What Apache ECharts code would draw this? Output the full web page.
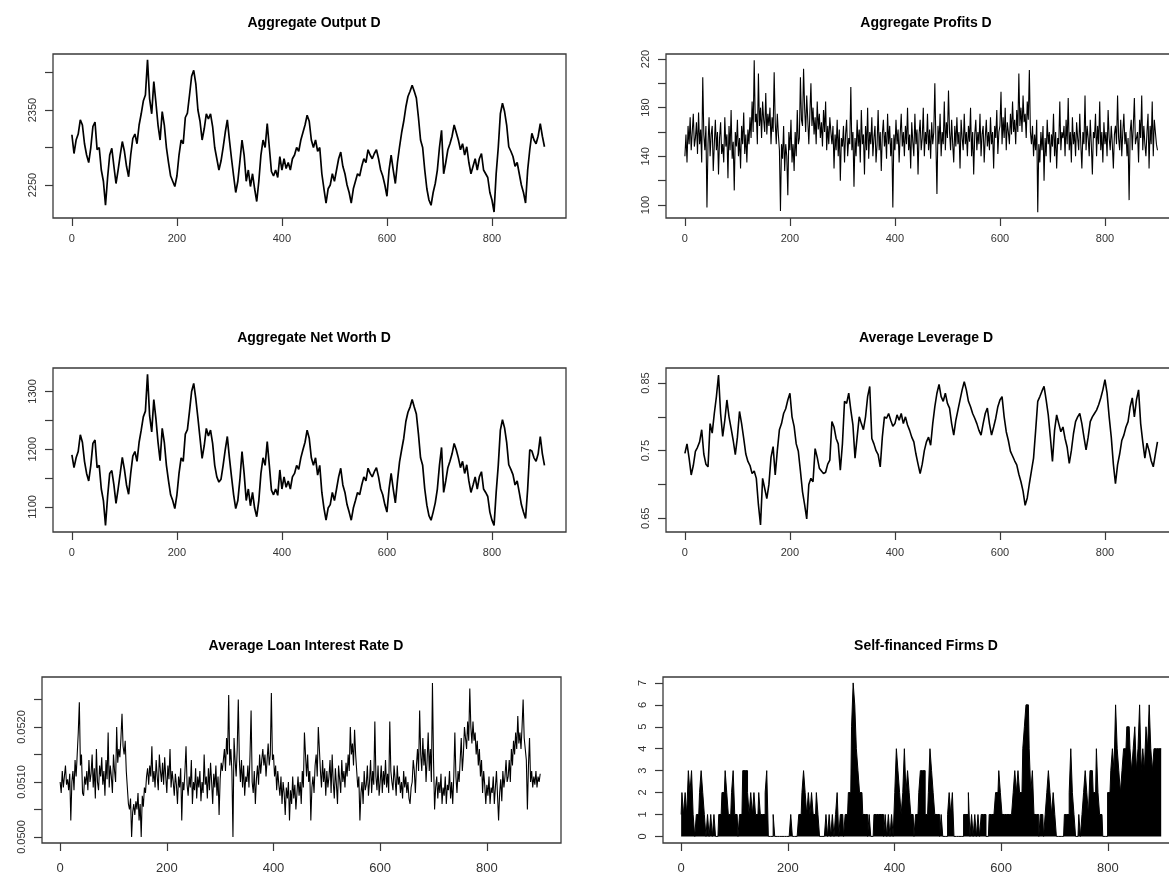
<!DOCTYPE html>
<html><head><meta charset="utf-8">
<script src="https://cdn.jsdelivr.net/npm/echarts@6/dist/echarts.min.js"></script>
<style>html,body{margin:0;padding:0;background:#fff;overflow:hidden}#c{width:1200px;height:875px}</style>
</head><body><div id="c"></div>
<script>
// ---- data (time index t = position * step) ----
const xTickValues = [0, 200, 400, 600, 800];

// Aggregate Output D, every 4th period
const outputStep = 4;
const outputVals = [
2317,2292,2310,2318,2337,2330,2305,2290,2280,2300,
2328,2334,2297,2300,2270,2255,2223,2260,2290,2299,
2275,2252,2270,2290,2308,2295,2275,2261,2290,2312,
2318,2305,2330,2345,2362,2370,2417,2365,2345,2388,
2360,2330,2310,2348,2330,2300,2280,2262,2255,2248,
2262,2290,2310,2305,2340,2346,2370,2395,2403,2385,
2350,2335,2310,2325,2345,2338,2345,2328,2300,2285,
2270,2282,2300,2320,2337,2310,2285,2262,2240,2255,
2282,2310,2290,2255,2270,2248,2265,2245,2228,2255,
2290,2310,2300,2332,2300,2268,2262,2270,2260,2288,
2270,2285,2272,2280,2270,2285,2290,2300,2295,2310,
2320,2330,2343,2335,2310,2300,2310,2295,2300,2265,
2245,2226,2245,2250,2265,2255,2270,2285,2294,2275,
2265,2250,2240,2226,2245,2255,2265,2262,2275,2285,
2280,2297,2290,2285,2292,2297,2285,2270,2262,2250,
2235,2270,2290,2270,2252,2280,2301,2320,2335,2354,
2368,2375,2383,2375,2366,2340,2310,2300,2270,2245,
2230,2223,2240,2252,2270,2300,2323,2265,2280,2297,
2305,2315,2330,2320,2310,2297,2305,2290,2301,2280,
2265,2275,2285,2270,2285,2292,2270,2265,2260,2240,
2230,2214,2265,2300,2345,2359,2348,2330,2301,2295,
2288,2275,2280,2265,2250,2240,2226,2270,2297,2319,
2310,2305,2315,2332,2315,2301];
const outputYTicks = [2250, 2300, 2350, 2400];
const outputYLabels = [2250, 2350];

// Aggregate Profits D, every 2nd period
const profitStep = 2;
const profitVals = [
140,158,135,165,150,172,145,160,175,148,
155,168,142,176,150,162,135,205,158,145,
165,98,150,172,140,158,165,128,150,170,
145,160,125,155,168,142,150,135,172,148,
158,122,165,145,178,138,152,112,160,148,
170,140,155,130,165,150,176,142,158,135,
162,150,172,155,185,160,219,168,175,150,
208,165,180,155,185,170,160,192,158,175,
165,180,150,172,160,209,168,150,175,158,
145,95,150,138,165,128,150,140,108,160,
145,170,135,150,128,160,140,178,150,155,
205,170,165,212,180,160,190,170,150,175,
200,165,180,158,172,150,185,162,175,155,
168,148,178,160,185,145,165,150,172,160,
150,165,130,158,145,170,140,162,120,155,
148,165,135,158,170,140,155,150,197,145,
160,115,155,140,170,148,162,135,178,150,
158,125,165,145,180,138,160,150,172,140,
155,165,135,150,178,145,160,128,158,170,
148,160,138,175,150,165,140,155,98,158,
145,170,150,162,135,158,175,148,160,140,
165,150,180,145,158,130,168,152,140,175,
150,162,125,158,170,145,155,180,140,160,
150,175,145,162,138,168,150,160,200,152,
109,165,150,175,140,160,150,185,145,168,
155,194,160,145,170,150,135,165,148,172,
150,160,130,170,155,145,175,150,160,140,
165,152,180,140,160,125,158,170,145,160,
150,175,140,158,165,135,155,170,148,160,
145,172,150,160,130,165,155,178,142,160,
165,193,150,172,155,180,145,168,160,150,
175,158,185,160,170,150,178,160,208,165,
180,160,190,168,175,155,185,170,211,160,
150,165,140,158,145,170,94,150,135,160,
145,165,120,155,140,170,150,160,135,158,
148,175,140,160,130,155,150,185,145,160,
155,165,140,170,150,188,145,160,135,172,
150,160,140,168,155,145,175,150,130,160,
150,190,145,165,155,140,170,150,125,160,
155,175,140,165,150,185,145,160,135,168,
150,160,140,178,155,145,165,150,130,158,
165,150,190,155,145,170,140,160,175,150,
160,140,155,104,160,170,145,165,188,150,
150,160,135,170,155,190,145,165,150,140,
160,175,130,165,150,185,140,170,160,150,
145];
const profitYTicks = [100, 120, 140, 160, 180, 200, 220];
const profitYLabels = [100, 140, 180, 220];

// Aggregate Net Worth D, every 4th period
const netWorthStep = 4;
const netWorthVals = [
1190,1168,1185,1196,1225,1212,1179,1158,1145,1172,
1210,1216,1168,1172,1131,1111,1068,1118,1158,1163,
1138,1106,1131,1158,1186,1165,1138,1122,1158,1188,
1196,1179,1212,1233,1256,1266,1330,1258,1230,1286,
1253,1212,1180,1236,1212,1172,1145,1121,1111,1097,
1121,1158,1185,1179,1226,1234,1266,1300,1314,1287,
1254,1219,1184,1206,1236,1223,1233,1210,1172,1152,
1143,1148,1172,1199,1222,1185,1152,1121,1097,1111,
1148,1196,1158,1111,1131,1102,1125,1098,1083,1111,
1158,1185,1172,1213,1172,1129,1121,1131,1120,1164,
1131,1152,1134,1145,1131,1152,1158,1172,1165,1185,
1199,1212,1233,1219,1185,1172,1185,1155,1172,1125,
1098,1077,1098,1104,1125,1111,1131,1152,1167,1138,
1125,1104,1091,1077,1098,1111,1125,1121,1138,1152,
1145,1167,1158,1152,1161,1168,1152,1131,1121,1104,
1091,1131,1158,1131,1107,1145,1178,1199,1219,1248,
1264,1273,1286,1273,1261,1226,1185,1172,1131,1103,
1085,1077,1091,1107,1131,1172,1203,1125,1145,1168,
1179,1192,1210,1199,1185,1168,1179,1158,1173,1145,
1125,1138,1152,1131,1152,1161,1131,1125,1118,1091,
1077,1068,1125,1172,1233,1251,1237,1212,1173,1165,
1156,1138,1145,1125,1104,1091,1080,1131,1199,1197,
1185,1179,1192,1222,1192,1172];
const netWorthYTicks = [1100, 1150, 1200, 1250, 1300];
const netWorthYLabels = [1100, 1200, 1300];

// Average Leverage D, every 4th period
const leverageStep = 4;
const leverageVals = [
0.746,0.760,0.739,0.714,0.728,0.749,0.755,0.763,0.781,0.745,
0.730,0.726,0.790,0.776,0.805,0.830,0.862,0.805,0.771,0.795,
0.825,0.800,0.783,0.765,0.744,0.770,0.808,0.790,0.768,0.745,
0.734,0.728,0.716,0.720,0.709,0.670,0.640,0.709,0.694,0.679,
0.700,0.740,0.756,0.714,0.750,0.781,0.790,0.805,0.812,0.825,
0.835,0.800,0.786,0.760,0.749,0.720,0.689,0.670,0.649,0.700,
0.709,0.704,0.753,0.740,0.724,0.720,0.716,0.718,0.730,0.736,
0.793,0.785,0.768,0.760,0.721,0.760,0.823,0.820,0.835,0.810,
0.788,0.739,0.770,0.800,0.790,0.781,0.800,0.830,0.845,0.768,
0.760,0.750,0.744,0.726,0.770,0.800,0.798,0.805,0.795,0.786,
0.790,0.803,0.795,0.805,0.790,0.800,0.788,0.780,0.770,0.763,
0.745,0.730,0.716,0.730,0.750,0.763,0.770,0.758,0.790,0.815,
0.835,0.848,0.830,0.823,0.835,0.820,0.813,0.790,0.773,0.795,
0.810,0.825,0.840,0.852,0.840,0.823,0.815,0.805,0.798,0.790,
0.780,0.773,0.790,0.805,0.813,0.790,0.773,0.785,0.798,0.815,
0.825,0.830,0.800,0.778,0.765,0.749,0.742,0.735,0.729,0.715,
0.704,0.690,0.669,0.680,0.701,0.720,0.739,0.780,0.823,0.830,
0.838,0.845,0.825,0.803,0.770,0.734,0.780,0.803,0.790,0.778,
0.785,0.768,0.755,0.731,0.750,0.775,0.793,0.800,0.805,0.790,
0.770,0.751,0.770,0.793,0.800,0.805,0.810,0.818,0.828,0.840,
0.855,0.835,0.800,0.770,0.730,0.701,0.729,0.745,0.765,0.773,
0.785,0.793,0.815,0.828,0.800,0.825,0.840,0.790,0.763,0.739,
0.761,0.750,0.735,0.726,0.745,0.763];
const leverageYTicks = [0.65, 0.70, 0.75, 0.80, 0.85];
const leverageYLabels = [0.65, 0.75, 0.85];

// Average Loan Interest Rate D, every 2nd period
const loanRateStep = 2;
const loanRateVals = [
0.05100,0.05080,0.05120,0.05090,0.05110,0.05130,0.05095,0.05105,0.05085,0.05115,
0.05030,0.05100,0.05120,0.05085,0.05140,0.05110,0.05150,0.05190,0.05245,0.05130,
0.05150,0.05080,0.05075,0.05110,0.05095,0.05120,0.05085,0.05140,0.05100,0.05115,
0.05150,0.05090,0.05125,0.05070,0.05160,0.05100,0.05085,0.05130,0.05110,0.05145,
0.05095,0.05120,0.05075,0.05140,0.05105,0.05190,0.05090,0.05130,0.05110,0.05080,
0.05150,0.05120,0.05100,0.05200,0.05135,0.05160,0.05145,0.05180,0.05224,0.05165,
0.05150,0.05175,0.05120,0.05090,0.05060,0.05050,0.05070,0.05000,0.05045,0.05060,
0.05040,0.05065,0.05050,0.05080,0.05030,0.05060,0.05000,0.05075,0.05055,0.05090,
0.05080,0.05110,0.05125,0.05095,0.05130,0.05110,0.05165,0.05100,0.05120,0.05090,
0.05140,0.05110,0.05085,0.05150,0.05120,0.05100,0.05135,0.05095,0.05145,0.05110,
0.05080,0.05130,0.05105,0.05160,0.05090,0.05120,0.05100,0.05075,0.05115,0.05095,
0.05060,0.05110,0.05090,0.05125,0.05030,0.05100,0.05085,0.05120,0.05165,0.05095,
0.05075,0.05110,0.05090,0.05140,0.05060,0.05100,0.05085,0.05125,0.05070,0.05110,
0.05090,0.05120,0.05065,0.05100,0.05080,0.05150,0.05095,0.05110,0.05070,0.05125,
0.05085,0.05135,0.05100,0.05060,0.05115,0.05090,0.05130,0.05075,0.05110,0.05040,
0.05105,0.05135,0.05120,0.05140,0.05160,0.05120,0.05180,0.05150,0.05258,0.05130,
0.05160,0.05120,0.05000,0.05180,0.05140,0.05110,0.05160,0.05250,0.05140,0.05100,
0.05140,0.05090,0.05130,0.05075,0.05110,0.05100,0.05130,0.05090,0.05150,0.05230,
0.05100,0.05080,0.05120,0.05060,0.05105,0.05130,0.05095,0.05150,0.05115,0.05140,
0.05160,0.05130,0.05150,0.05110,0.05140,0.05170,0.05130,0.05150,0.05262,0.05140,
0.05150,0.05110,0.05130,0.05085,0.05120,0.05095,0.05075,0.05110,0.05060,0.05100,
0.05080,0.05040,0.05090,0.05070,0.05100,0.05030,0.05085,0.05060,0.05110,0.05070,
0.05095,0.05050,0.05080,0.05110,0.05075,0.05100,0.05060,0.05120,0.05090,0.05190,
0.05190,0.05110,0.05150,0.05100,0.05120,0.05030,0.05090,0.05110,0.05080,0.05130,
0.05150,0.05110,0.05200,0.05160,0.05120,0.05090,0.05140,0.05100,0.05125,0.05075,
0.05120,0.05090,0.05110,0.05140,0.05080,0.05150,0.05100,0.05070,0.05125,0.05095,
0.05060,0.05130,0.05105,0.05080,0.05140,0.05100,0.05120,0.05090,0.05135,0.05110,
0.05150,0.05120,0.05200,0.05150,0.05170,0.05130,0.05195,0.05150,0.05120,0.05090,
0.05110,0.05030,0.05080,0.05100,0.05060,0.05120,0.05085,0.05095,0.05130,0.05075,
0.05100,0.05140,0.05080,0.05120,0.05095,0.05210,0.05110,0.05085,0.05130,0.05075,
0.05100,0.05130,0.05080,0.05120,0.05095,0.05140,0.05090,0.05115,0.05080,0.05210,
0.05120,0.05100,0.05085,0.05130,0.05105,0.05075,0.05130,0.05095,0.05110,0.05080,
0.05100,0.05070,0.05120,0.05090,0.05110,0.05080,0.05100,0.05070,0.05060,0.05090,
0.05100,0.05140,0.05120,0.05080,0.05130,0.05160,0.05120,0.05230,0.05150,0.05120,
0.05180,0.05130,0.05160,0.05100,0.05140,0.05190,0.05120,0.05160,0.05100,0.05280,
0.05140,0.05050,0.05090,0.05110,0.05070,0.05100,0.05080,0.05115,0.05060,0.05090,
0.05075,0.05110,0.05060,0.05095,0.05085,0.05120,0.05070,0.05100,0.05060,0.05110,
0.05190,0.05110,0.05080,0.05120,0.05100,0.05140,0.05180,0.05120,0.05150,0.05200,
0.05180,0.05160,0.05210,0.05175,0.05270,0.05200,0.05170,0.05210,0.05175,0.05190,
0.05150,0.05175,0.05130,0.05160,0.05110,0.05140,0.05080,0.05120,0.05095,0.05060,
0.05095,0.05075,0.05110,0.05060,0.05090,0.05080,0.05110,0.05060,0.05090,0.05120,
0.05075,0.05030,0.05080,0.05105,0.05065,0.05120,0.05090,0.05110,0.05140,0.05100,
0.05110,0.05140,0.05100,0.05160,0.05130,0.05175,0.05150,0.05190,0.05160,0.05220,
0.05170,0.05190,0.05160,0.05200,0.05250,0.05180,0.05160,0.05140,0.05050,0.05130,
0.05180,0.05100,0.05120,0.05090,0.05110,0.05095,0.05120,0.05090,0.05110,0.05100,
0.05115];
const loanRateYTicks = [0.0500, 0.0505, 0.0510, 0.0515, 0.0520, 0.0525];
const loanRateYLabels = [0.0500, 0.0510, 0.0520];

// Self-financed Firms D, every 3rd period
const selfFinStep = 3;
const selfFinVals = [
1,2,1,2,1,3,2,3,1,0,
1,1,2,3,2,1,0,1,0,1,
0,1,0,0,1,1,2,2,3,2,
1,1,2,3,1,1,0,1,1,3,
3,3,2,1,2,1,2,1,1,2,
1,1,1,2,3,0,0,0,1,0,
0,0,0,0,0,0,0,0,0,1,
0,0,0,0,1,1,2,3,2,1,
2,1,2,1,1,2,1,0,0,0,
0,1,0,1,0,1,0,1,2,0,
1,1,0,1,1,2,2,5,7,6,
4,3,2,2,1,1,1,0,1,0,
0,1,1,1,1,1,1,0,1,0,
1,0,1,0,2,4,3,2,1,2,
4,2,3,2,1,1,0,1,1,2,
3,3,3,1,1,2,4,3,2,1,
1,1,0,1,0,0,0,1,2,1,
2,0,0,0,0,0,0,1,1,1,
2,0,1,0,1,0,1,0,1,1,
1,0,0,1,1,1,1,2,2,3,
2,1,1,1,1,1,1,1,2,3,
2,3,2,2,4,5,6,6,4,2,
3,1,1,1,0,1,1,0,1,2,
3,2,1,2,1,0,0,0,0,0,
1,1,1,2,4,2,1,0,0,1,
0,1,2,3,2,1,3,3,2,2,
4,2,1,1,0,0,0,2,2,3,
4,3,6,4,3,2,3,4,4,5,
5,4,3,4,5,3,4,6,3,4,
3,5,4,6,4,3,4,4,4,4,
4];
const selfFinYTicks = [0, 1, 2, 3, 4, 5, 6, 7];
const selfFinYLabels = [0, 1, 2, 3, 4, 5, 6, 7];

// ---- layout ----
const FONT = '"Liberation Sans", Arial, Helvetica, sans-serif';
const INK = '#333';
const panels = [
  {title:'Aggregate Output D', vals:outputVals, step:outputStep, g:[53,54,513,164], xr:[-36,941], yr:[2206,2424.7], yt:outputYTicks, yl:outputYLabels, dec:0, tx:309, ty:11, xf:11, xm:15, lw:1.7},
  {title:'Aggregate Profits D', vals:profitVals, step:profitStep, g:[666,54,513,164], xr:[-36,941], yr:[89.3,224.1], yt:profitYTicks, yl:profitYLabels, dec:0, tx:921, ty:11, xf:11, xm:15, lw:1.1},
  {title:'Aggregate Net Worth D', vals:netWorthVals, step:netWorthStep, g:[53,368,513,164], xr:[-36,941], yr:[1056.5,1340.7], yt:netWorthYTicks, yl:netWorthYLabels, dec:0, tx:309, ty:326, xf:11, xm:15, lw:1.7},
  {title:'Average Leverage D', vals:leverageVals, step:leverageStep, g:[666,368,513,164], xr:[-36,941], yr:[0.6296,0.8723], yt:leverageYTicks, yl:leverageYLabels, dec:2, tx:921, ty:326, xf:11, xm:15, lw:1.6},
  {title:'Average Loan Interest Rate D', vals:loanRateVals, step:loanRateStep, g:[42,677,519,166], xr:[-34,939], yr:[0.049891,0.052909], yt:loanRateYTicks, yl:loanRateYLabels, dec:4, tx:301, ty:634, xf:13, xm:19, lw:1.1},
  {title:'Self-financed Firms D', vals:selfFinVals, step:selfFinStep, g:[663,677,519,166], xr:[-34,939], yr:[-0.30,7.27], yt:selfFinYTicks, yl:selfFinYLabels, dec:0, tx:921, ty:634, xf:13, xm:19, lw:1, area:true}
];

const option = {animation:false, backgroundColor:'#fff', title:[], grid:[], xAxis:[], yAxis:[], series:[]};
panels.forEach((p, i) => {
  option.title.push({text:p.title, left:p.tx, top:p.ty, textAlign:'center',
    textStyle:{fontFamily:FONT, fontSize:14, fontWeight:'bold', color:'#000'}});
  option.grid.push({left:p.g[0], top:p.g[1], width:p.g[2], height:p.g[3], show:true,
    borderColor:'#3a3a3a', borderWidth:1.3, backgroundColor:'transparent'});
  option.xAxis.push({type:'value', gridIndex:i, min:p.xr[0], max:p.xr[1],
    axisLine:{show:false, onZero:false}, splitLine:{show:false},
    axisTick:{show:true, length:8, customValues:xTickValues, lineStyle:{color:'#3a3a3a', width:1.2}},
    axisLabel:{customValues:xTickValues, margin:p.xm, fontSize:p.xf, color:INK, fontFamily:FONT}});
  option.yAxis.push({type:'value', gridIndex:i, min:p.yr[0], max:p.yr[1],
    axisLine:{show:false, onZero:false}, splitLine:{show:false},
    axisTick:{show:true, length:8, customValues:p.yt, lineStyle:{color:'#3a3a3a', width:1.2}},
    axisLabel:{customValues:p.yl, rotate:90, margin:15, fontSize:11, color:INK, fontFamily:FONT,
      formatter:(v) => Number(v).toFixed(p.dec)}});
  const s = {type:'line', xAxisIndex:i, yAxisIndex:i, silent:true, symbol:'none', showSymbol:false,
    data:p.vals.map((v, k) => [k * p.step, v]),
    lineStyle:{color:'#000', width:p.lw}};
  if (p.area) { s.step = 'middle'; s.areaStyle = {color:'#000', opacity:1}; }
  option.series.push(s);
});

const chart = echarts.init(document.getElementById('c'), null, {renderer:'canvas'});
chart.setOption(option);
</script>
</body></html>
